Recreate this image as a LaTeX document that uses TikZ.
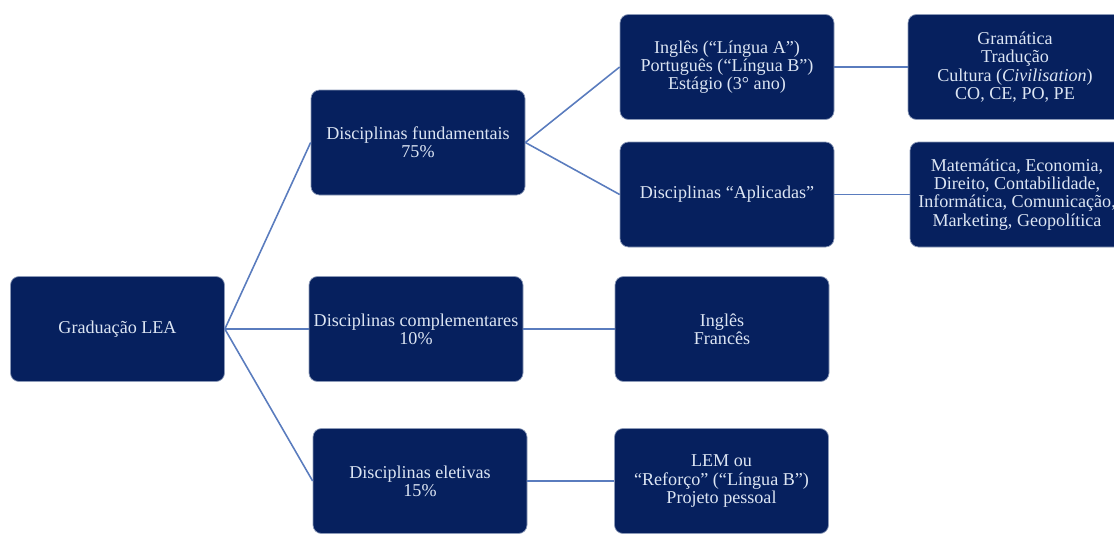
\documentclass[tikz,border=0pt]{standalone}
\usepackage{fontspec}
\setmainfont{Liberation Serif}
\usepackage{xcolor}
\usepackage{tikz}
\usetikzlibrary{positioning}

\definecolor{navy}{HTML}{06205E}
\definecolor{navyedge}{HTML}{8C9AB8}
\definecolor{boxtext}{HTML}{DCE5F3}
\definecolor{linkblue}{HTML}{5A7CBE}

\begin{document}
\begin{tikzpicture}[
    box/.style={draw=navyedge, line width=0.4pt, fill=navy, rounded corners=0.17cm,
        minimum width=4.28cm, minimum height=2.1cm, inner sep=0pt, align=center,
        text=boxtext, font=\fontsize{10.3pt}{10.4pt}\selectfont},
    link/.style={draw=linkblue, line width=0.9pt}
]
    \useasboundingbox (0,0) rectangle (22.28,-10.68);

    % Root
    \node[box] (grad) at (2.35,-6.58) {Graduação LEA};

    % Second level
    \node[box] (fund) at (8.36,-2.85) {Disciplinas fundamentais\\75\%};
    \node[box] (compl) at (8.32,-6.58) {Disciplinas complementares\\10\%};
    \node[box] (elet) at (8.40,-9.62) {Disciplinas eletivas\\15\%};

    % Third level
    \node[box] (lingua) at (14.54,-1.34) {Inglês (“Língua A”)\\Português (“Língua B”)\\Estágio (3° ano)};
    \node[box] (aplic) at (14.54,-3.89) {Disciplinas “Aplicadas”};
    \node[box] (ingfr) at (14.44,-6.58) {Inglês\\Francês};
    \node[box] (lem) at (14.43,-9.62) {LEM ou\\“Reforço” (“Língua B”)\\Projeto pessoal};

    % Fourth level
    \node[box] (gram) at (20.30,-1.34) {Gramática\\Tradução\\Cultura (\textit{Civilisation})\\CO, CE, PO, PE};
    \node[box] (matem) at (20.34,-3.89) {Matemática, Economia,\\Direito, Contabilidade,\\Informática, Comunicação,\\Marketing, Geopolítica};

    % Links
    \foreach \a/\b in {grad/fund, grad/compl, grad/elet, fund/lingua, fund/aplic,
                       lingua/gram, aplic/matem, compl/ingfr, elet/lem}
        \draw[link] (\a.east) -- (\b.west);
\end{tikzpicture}
\end{document}
